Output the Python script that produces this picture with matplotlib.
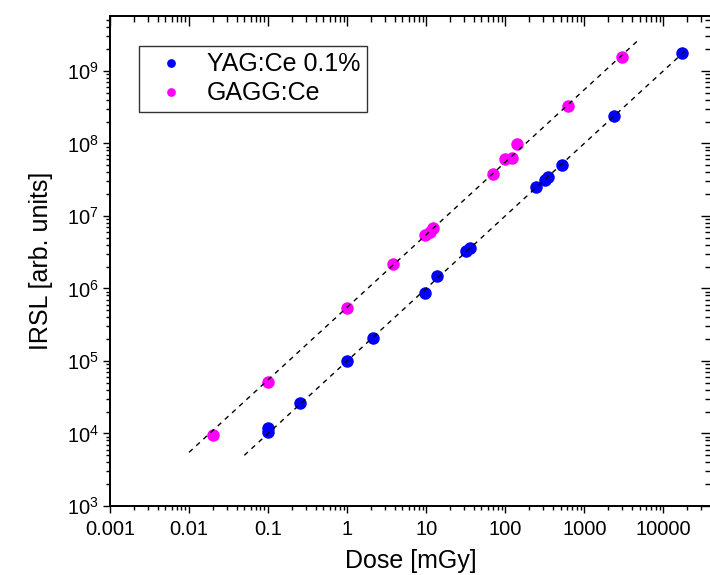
import numpy as np
import matplotlib
matplotlib.use("Agg")
import matplotlib.pyplot as plt
from matplotlib.ticker import LogLocator, FuncFormatter, NullFormatter

plt.rcParams['font.family'] = ['Liberation Sans', 'DejaVu Sans']
plt.rcParams['mathtext.fontset'] = 'custom'
plt.rcParams['mathtext.rm'] = 'Liberation Sans'
plt.rcParams['mathtext.it'] = 'Liberation Sans:italic'
plt.rcParams['mathtext.bf'] = 'Liberation Sans:bold'

# ---- data ----
yag_dose = [0.1, 0.1, 0.25, 1.0, 2.1, 9.7, 13.7, 32, 36, 243, 315, 350, 527, 2400, 17000]
yag_irsl = [1.05e4, 1.2e4, 2.6e4, 1.0e5, 2.06e5, 8.6e5, 1.47e6, 3.3e6, 3.6e6,
            2.5e7, 3.1e7, 3.4e7, 5.1e7, 2.4e8, 1.74e9]

gagg_dose = [0.02, 0.1, 1.0, 3.84, 9.7, 11, 12.3, 70.6, 99, 121, 140, 628, 3000]
gagg_irsl = [9.4e3, 5.1e4, 5.4e5, 2.14e6, 5.4e6, 6.0e6, 6.7e6, 3.76e7, 6.0e7,
             6.2e7, 9.7e7, 3.26e8, 1.55e9]

# linear fits (IRSL = k * Dose) and their dose ranges
yag_fit_k = 1.0e5
yag_fit_range = [0.05, 20000]
gagg_fit_k = 5.5e5
gagg_fit_range = [0.01, 5000]

labels = ['YAG:Ce 0.1%', 'GAGG:Ce']
colors = ['#0000FF', '#FF00FF']

xticks = [0.001, 0.01, 0.1, 1, 10, 100, 1000, 10000]
xlim = (1e-3, 4.0e4)
ylim = (1e3, 5.7e9)

# ---- figure ----
fig = plt.figure(figsize=(7.10, 5.75), dpi=100)
ax = fig.add_axes([110/710, 1 - 506/575, 601/710, 490/575])

for k, rng in [(gagg_fit_k, gagg_fit_range), (yag_fit_k, yag_fit_range)]:
    xx = np.array(rng)
    ax.plot(xx, k * xx, color='black', lw=1.0, dashes=(3.5, 3.5), zorder=3)

ax.plot(yag_dose, yag_irsl, 'o', color=colors[0], ms=9, mec='none',
        label=labels[0], zorder=2)
ax.plot(gagg_dose, gagg_irsl, 'o', color=colors[1], ms=9, mec='none',
        label=labels[1], zorder=2)

ax.set_xscale('log')
ax.set_yscale('log')
ax.set_xlim(*xlim)
ax.set_ylim(*ylim)

ax.xaxis.set_minor_locator(LogLocator(base=10, subs=np.arange(2, 10), numticks=100))
ax.yaxis.set_major_locator(LogLocator(base=10, numticks=20))
ax.yaxis.set_minor_locator(LogLocator(base=10, subs=np.arange(2, 10), numticks=100))
ax.set_xticks(xticks)
ax.xaxis.set_major_formatter(FuncFormatter(lambda v, p: '%g' % v))
ax.xaxis.set_minor_formatter(NullFormatter())
ax.yaxis.set_major_formatter(FuncFormatter(
    lambda v, p: r'$\mathregular{10^{%d}}$' % int(round(np.log10(v)))))
ax.yaxis.set_minor_formatter(NullFormatter())

ax.tick_params(which='major', direction='out', length=5, width=1.0,
               labelsize=14.5, top=False, right=False)
ax.tick_params(which='minor', direction='out', length=3, width=1.0,
               top=False, right=False)
ax.tick_params(axis='x', which='major', pad=5)
ax.tick_params(axis='y', which='major', pad=3)

for s in ax.spines.values():
    s.set_linewidth(1.1)

# mirrored inward ticks on top and right
axt = ax.twiny()
axt.set_xscale('log')
axt.set_xlim(*xlim)
axt.xaxis.set_major_locator(LogLocator(base=10, numticks=20))
axt.xaxis.set_minor_locator(LogLocator(base=10, subs=np.arange(2, 10), numticks=100))
axt.xaxis.set_major_formatter(NullFormatter())
axt.xaxis.set_minor_formatter(NullFormatter())
axt.tick_params(which='major', direction='in', length=7, width=1.0, labeltop=False)
axt.tick_params(which='minor', direction='in', length=4, width=1.0)
axt.yaxis.set_visible(False)
axr = ax.twinx()
axr.set_yscale('log')
axr.set_ylim(*ylim)
axr.yaxis.set_major_locator(LogLocator(base=10, numticks=20))
axr.yaxis.set_minor_locator(LogLocator(base=10, subs=np.arange(2, 10), numticks=100))
axr.yaxis.set_major_formatter(NullFormatter())
axr.yaxis.set_minor_formatter(NullFormatter())
axr.tick_params(which='major', direction='in', length=7, width=1.0, labelright=False)
axr.tick_params(which='minor', direction='in', length=4, width=1.0)
axr.xaxis.set_visible(False)
for a in (axt, axr):
    for s in a.spines.values():
        s.set_linewidth(1.1)

ax.set_xlabel('Dose [mGy]', fontsize=18, labelpad=7)
ax.set_ylabel('IRSL [arb. units]', fontsize=18, labelpad=10)

leg = ax.legend(loc='upper left', bbox_to_anchor=((139-110)/601, (506-46)/490),
                borderaxespad=0, fontsize=18, markerscale=0.7, frameon=True,
                fancybox=False, edgecolor='black', handletextpad=0.41,
                borderpad=0.25, labelspacing=0.2, handlelength=2.06)
leg.get_frame().set_linewidth(1.0)

fig.savefig('out.png', dpi=100, facecolor='white')
